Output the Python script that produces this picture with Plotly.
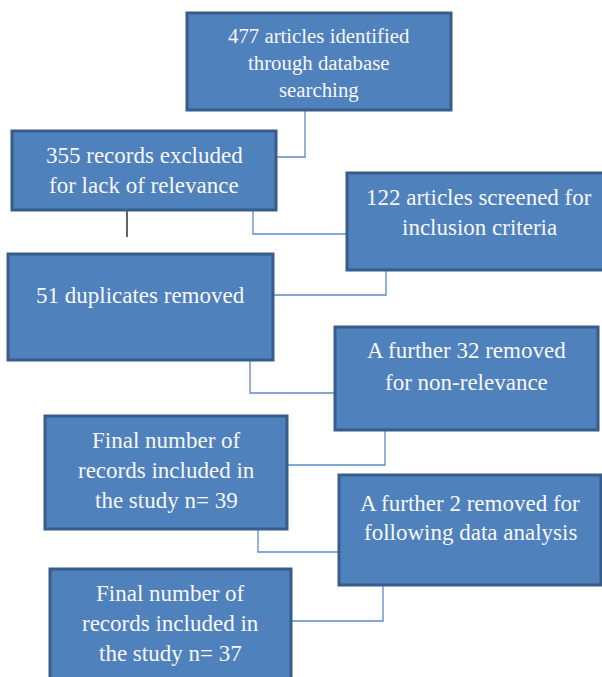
import plotly.graph_objects as go

# ---- content (text of each box) ----
box_lines = [
    ["477 articles identified", "through database", "searching"],
    ["355 records excluded", "for lack of relevance"],
    ["122 articles screened for", "inclusion criteria"],
    ["51 duplicates removed"],
    ["A further 32 removed", "for non-relevance"],
    ["Final number of", "records included in", "the study n= 39"],
    ["A further 2 removed for", "following data analysis"],
    ["Final number of", "records included in", "the study n= 37"],
]

# ---- layout of boxes (pixel coordinates: x0, y0, x1, y1) ----
box_pos = [
    (187, 13, 451, 110),
    (12, 131, 276, 210),
    (347, 173, 611, 270),
    (8, 254, 273, 360),
    (335, 327, 598, 430),
    (45, 416, 287, 529),
    (339, 475, 601, 585),
    (50, 569, 291, 690),
]
first_line_offset = [22, 24, 24, 41, 23, 24, 28, 24]
line_gap = [27.5, 30, 30, 30, 32, 30, 29, 30]
font_size = [20.8, 23, 23, 23, 23, 23, 23, 23]

# elbow connectors: (x_start, y_start, y_turn, x_end)
connectors = [
    (305, 110, 157, 276),
    (253, 210, 234, 347),
    (386, 270, 295, 273),
    (250, 360, 393, 335),
    (385, 430, 465, 287),
    (258, 529, 552, 339),
    (383, 585, 621, 291),
]

FILL = "#4F81BD"
EDGE = "#385D8A"
LINE = "#5B8BC9"
FONT = "Liberation Serif"

fig = go.Figure()

for (xs, ys, yt, xe) in connectors:
    fig.add_trace(go.Scatter(x=[xs, xs, xe], y=[ys, yt, yt], mode="lines",
                             line=dict(color=LINE, width=1.3), hoverinfo="skip",
                             showlegend=False))

# black stub under second box
fig.add_trace(go.Scatter(x=[127, 127], y=[210, 237], mode="lines",
                         line=dict(color="#111111", width=1.3), hoverinfo="skip",
                         showlegend=False))

shapes = []
annotations = []
for i, (x0, y0, x1, y1) in enumerate(box_pos):
    shapes.append(dict(type="rect", xref="x", yref="y", x0=x0, y0=y0, x1=x1, y1=y1,
                       fillcolor=FILL, line=dict(color=EDGE, width=3), layer="above"))
    cx = (x0 + x1) / 2
    for j, txt in enumerate(box_lines[i]):
        annotations.append(dict(x=cx, y=y0 + first_line_offset[i] + j * line_gap[i],
                                xref="x", yref="y", text=txt, showarrow=False,
                                xanchor="center", yanchor="middle",
                                font=dict(family=FONT, size=font_size[i], color="#F7F7F7")))

fig.update_layout(
    width=602, height=677,
    margin=dict(l=0, r=0, t=0, b=0),
    paper_bgcolor="white", plot_bgcolor="white",
    font=dict(family=FONT),
    xaxis=dict(range=[0, 602], visible=False, fixedrange=True),
    yaxis=dict(range=[677, 0], visible=False, fixedrange=True),
    shapes=shapes, annotations=annotations,
    showlegend=False,
)

fig.write_html("out.html", config={"displayModeBar": False},
               post_script="document.body.style.margin='0';document.body.style.overflow='hidden';")
